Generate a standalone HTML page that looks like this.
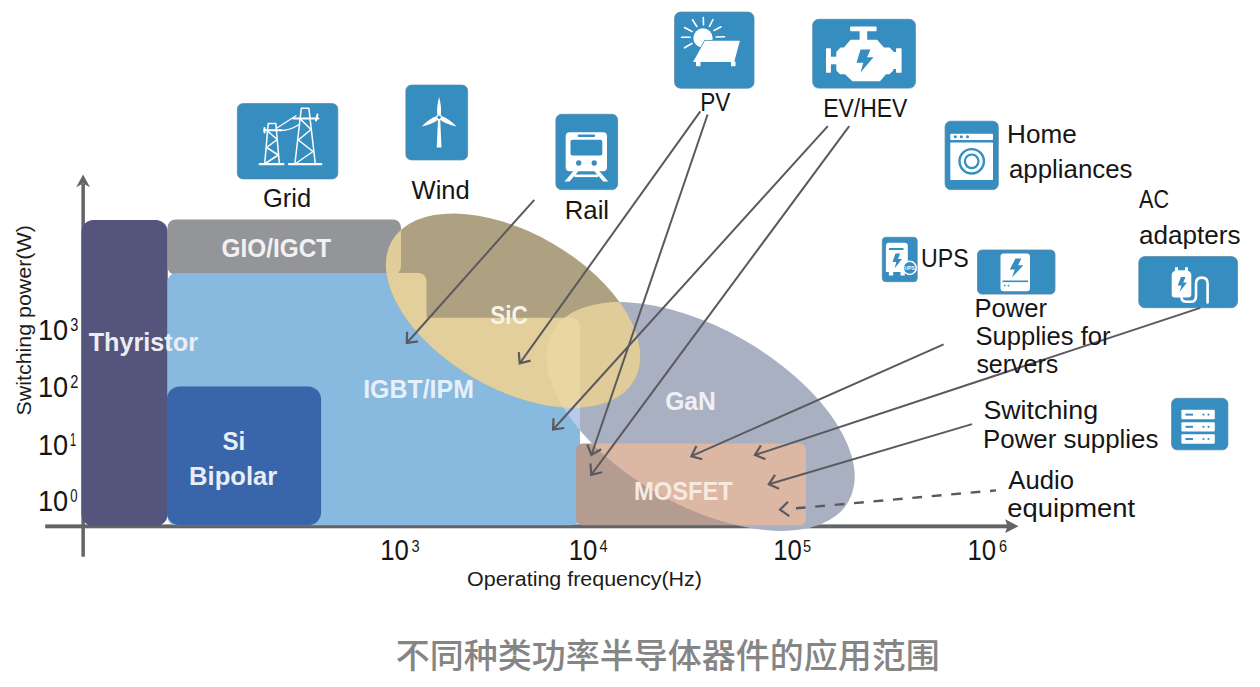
<!DOCTYPE html>
<html lang="zh">
<head>
<meta charset="utf-8">
<title>不同种类功率半导体器件的应用范围</title>
<style>
html,body{margin:0;padding:0;background:#fff;}
body{width:1260px;height:687px;overflow:hidden;}
svg{display:block;}
text{font-family:"Liberation Sans","Noto Sans CJK SC",sans-serif;}
.lbl{font-size:23.5px;fill:#161616;}
.w{font-weight:bold;font-size:23px;}
.tick{font-size:27px;fill:#161616;}
.sup{font-size:16px;fill:#161616;}
.ax{font-size:17.5px;fill:#1c1c1c;}
.title{font-family:"Liberation Sans","Noto Sans CJK SC",sans-serif;font-size:34px;font-weight:500;fill:#858585;}
.ln{stroke:#5a5a5e;stroke-width:2;fill:none;stroke-linecap:butt;}
.ic{fill:#368dbf;stroke:#5a88a6;stroke-width:0.8;}
</style>
</head>
<body>
<svg width="1260" height="687" viewBox="0 0 1260 687">
<defs>
  <ellipse id="e1" cx="513.100" cy="310.700" rx="139.800" ry="78" transform="rotate(30 513.100 310.700)"/>
  <ellipse id="e2" cx="700.500" cy="416.500" rx="170.700" ry="88" transform="rotate(30 700.500 416.500)" clip-path="url(#cb)"/>
  <path id="igbt" d="M167.500,283 Q167.500,273 177.500,273 L417.500,273 Q426.500,273 426.500,282 L426.500,317.800 L570,317.800 Q580,317.800 580,327.800 L580,516.300 Q580,525.300 571,525.300 L176.500,525.300 Q167.500,525.300 167.500,516.300 Z"/>
  <rect id="gio" x="167.500" y="219.500" width="233.500" height="55" rx="8" ry="8"/>
  <rect id="mos" x="576" y="443.400" width="230" height="81.900" rx="6.500" ry="6.500"/>
  <clipPath id="cb"><rect x="0" y="0" width="1260" height="528.400"/></clipPath>
  <clipPath id="c1"><use href="#e1"/></clipPath>
  <clipPath id="c2"><use href="#e2"/></clipPath>
</defs>

<!-- axes -->
<g id="axes" fill="#636467" stroke="none">
  <rect x="81.400" y="184" width="3.500" height="372.700"/>
  <path d="M83.100,174.400 L90,187.200 L83.100,183.600 L76.200,187.200 Z"/>
  <rect x="45.200" y="524.400" width="963" height="3.900"/>
  <path d="M1018.600,526.200 L1005.200,519.300 L1007.500,526.200 L1005.200,533.100 Z"/>
</g>

<!-- base regions -->
<g id="regions">
  <rect x="81.400" y="220" width="86.300" height="306" rx="12" ry="12" fill="#54547c"/>
  <use href="#gio" fill="#949599"/>
  <use href="#igbt" fill="#88b9de"/>
  <rect x="166.800" y="386.500" width="154.300" height="138.800" rx="13" ry="13" fill="#3965aa"/>
  <use href="#mos" fill="#b59c90"/>
  <!-- GaN -->
  <use href="#e2" fill="#a8b0c2"/>
  <g clip-path="url(#c2)">
    <use href="#igbt" fill="#b7cae9"/>
    <use href="#mos" fill="#dcb7a3"/>
  </g>
  <!-- SiC -->
  <use href="#e1" fill="#ada182"/>
  <g clip-path="url(#c1)">
    <use href="#gio" fill="#e1cd99"/>
    <use href="#igbt" fill="#e3cf9c"/>
    <use href="#e2" fill="#e0cc98"/>
    <g clip-path="url(#c2)">
      <use href="#igbt" fill="#ead6a2"/>
    </g>
  </g>
</g>

<!--ICONS_START-->
<g id="icons">
  <!-- Grid -->
  <g>
    <rect class="ic" x="237.4" y="103.6" width="100.4" height="75.3" rx="5.500"/>
    <g stroke="#fff" stroke-width="1.500" fill="none" stroke-linecap="round" stroke-linejoin="round">
      <!-- small pylon -->
      <path d="M268.200,123.500 L275.800,123.500 L279.400,164 M268.200,123.500 L264.700,164"/>
      <path d="M259.700,164.200 L283.400,164.200" stroke-width="2.200"/>
      <path d="M264,130.300 L281,130.300 M264.500,128 L264.500,132.500" stroke-width="2"/>
      <path d="M267.600,131 L277.200,139.500 L266.600,147.500 L278.300,155 L265.200,163.500"/>
      <!-- large pylon -->
      <path d="M301.300,108.300 L308.900,108.300 L315.300,164 M301.300,108.300 L294.900,164"/>
      <path d="M289,164.200 L321.200,164.200" stroke-width="2.200"/>
      <path d="M293.500,118.400 L318.400,118.400 M317.500,114.500 L316,120.500" stroke-width="2"/>
      <path d="M300.300,119 L311,129.500 L298.300,140 L313,151.500 L295.700,163.500"/>
      <!-- wires -->
      <path d="M276.500,128.300 L296,115.800" stroke-width="1.300"/>
      <path d="M280.500,130.500 Q290,130.500 299,124.500" stroke-width="1.300"/>
    </g>
  </g>
  <!-- Wind -->
  <g>
    <rect class="ic" x="405.9" y="85.1" width="61.7" height="74.8" rx="5.500"/>
    <g fill="#fff">
      <path d="M436.700,147.600 L438,119 L440.200,119 L441.500,147.600 Z"/>
      <path d="M439.100,96.800 Q442,108 440.700,115.800 L437.500,115.800 Q436.200,108 439.100,96.800 Z"/>
      <path d="M421.600,126.600 Q429.500,118.300 437,116 L438.900,119.300 Q432.500,124.300 421.600,126.600 Z"/>
      <path d="M456.600,126.600 Q448.700,118.300 441.200,116 L439.300,119.300 Q445.700,124.300 456.600,126.600 Z"/>
      <circle cx="439.100" cy="117.300" r="2.300" fill="#368dbf" stroke="#fff" stroke-width="1.100"/>
    </g>
  </g>
  <!-- Rail -->
  <g>
    <rect class="ic" x="555.9" y="114.3" width="61.7" height="75.3" rx="5.500"/>
    <path fill="#fff" d="M569.700,132.200 L603,132.200 Q607,132.200 607,136.200 L607,167.300 Q607,171.300 603,171.300 L569.700,171.300 Q565.700,171.300 565.700,167.300 L565.700,136.200 Q565.700,132.200 569.700,132.200 Z"/>
    <rect x="570.500" y="139.700" width="31.800" height="15.700" rx="2" fill="#368dbf"/>
    <rect x="577.700" y="134.400" width="17.500" height="2.700" rx="1.300" fill="#368dbf"/>
    <circle cx="578.700" cy="163" r="2.700" fill="#368dbf"/>
    <circle cx="594.200" cy="163" r="2.700" fill="#368dbf"/>
    <path fill="#fff" d="M573.500,171 L578.500,171 L569.500,181.500 L564.500,181.500 Z M599.200,171 L594.200,171 L603.200,181.500 L608.200,181.500 Z"/>
    <rect x="574.500" y="174.500" width="23.700" height="2.600" fill="#fff"/>
  </g>
  <!-- PV -->
  <g>
    <rect class="ic" x="674.6" y="12.1" width="79.4" height="76.1" rx="6"/>
    <circle cx="703" cy="38" r="9.700" fill="#fff"/>
    <g stroke="#fff" stroke-width="1.600" stroke-linecap="round">
      <path d="M703.500,25 L703.300,17.500 M709.500,26.300 L713,19.500 M714,30.500 L721,26.800 M716,37 L724.500,36.800 M696.800,26.500 L692.500,19.800 M692,31.500 L684.500,27.500 M690.200,37.300 L681.500,37.300 M692,43.500 L684.500,47.800"/>
    </g>
    <path d="M704.900,40.700 L739.900,40.700 L734.200,62 L693.100,62 Z" fill="#fff" stroke="#368dbf" stroke-width="1.400" stroke-linejoin="round" paint-order="stroke"/>
    <rect x="696" y="61.500" width="4.500" height="4.700" fill="#fff"/>
    <rect x="731" y="61.500" width="4.500" height="4.700" fill="#fff"/>
  </g>
  <!-- EV/HEV -->
  <g>
    <rect class="ic" x="812.7" y="19.3" width="102.7" height="68.8" rx="6"/>
    <g fill="#fff">
      <rect x="850.100" y="26.500" width="26.500" height="4.700" rx="0.800"/>
      <rect x="859.600" y="30" width="7.600" height="10"/>
      <path d="M850.500,39.700 L877,39.700 L884,47.500 L889.500,47.500 L893.300,51.300 L893.300,70.500 L889.500,74.300 L886,74.300 L880,81.300 L852.400,81.300 L845,74.300 L840,74.300 L836.300,70.500 L836.300,52 L840.500,47.500 L843.900,47.500 Z"/>
      <rect x="826" y="48.200" width="4.900" height="24.600" rx="0.600"/>
      <rect x="829" y="56.700" width="9" height="7.600"/>
      <rect x="896" y="48.200" width="5.600" height="24.600" rx="0.600"/>
      <rect x="892" y="52" width="5" height="17"/>
    </g>
    <path fill="#368dbf" d="M860.500,49.500 L870.500,49.500 L867,57.200 L873.500,57.200 L860.500,72.500 L863.300,62.800 L856.500,62.800 Z"/>
  </g>
  <!-- Home appliances -->
  <g>
    <rect class="ic" x="945.1" y="121.2" width="53.2" height="68.4" rx="5.500"/>
    <rect x="950.300" y="133.800" width="42.700" height="6.200" rx="0.800" fill="#fff"/>
    <rect x="950.300" y="142.500" width="42.700" height="37.500" rx="0.800" fill="#fff"/>
    <circle cx="955.300" cy="136.800" r="1.500" fill="#368dbf"/>
    <circle cx="961.300" cy="136.800" r="1.500" fill="#368dbf"/>
    <circle cx="967.500" cy="136.800" r="1.500" fill="#368dbf"/>
    <circle cx="971.700" cy="161.300" r="12.200" fill="none" stroke="#368dbf" stroke-width="2.400"/>
    <circle cx="971.700" cy="161.300" r="6.800" fill="none" stroke="#368dbf" stroke-width="2.200"/>
  </g>
  <!-- UPS -->
  <g>
    <rect class="ic" x="882.3" y="237.3" width="34.9" height="44.4" rx="3.500"/>
    <path fill="#fff" d="M888.900,242.800 L904.800,242.800 Q907.800,242.800 907.800,245.800 L907.800,272 L904.800,272 L904.800,275.500 L900.500,275.500 L900.500,272 L893.200,272 L893.200,275.500 L888.900,275.500 L888.900,272 L885.900,272 L885.900,245.800 Q885.900,242.800 888.900,242.800 Z"/>
    <rect x="889" y="248" width="14.500" height="2" fill="#368dbf"/>
    <path fill="#368dbf" d="M895.500,253.500 L900.200,253.500 L898,259 L902,259 L894.500,268.500 L896.300,262 L892.500,262 Z"/>
    <circle cx="909.700" cy="267.900" r="6.600" fill="#368dbf" stroke="#fff" stroke-width="1.500"/>
    <text x="909.700" y="269.800" text-anchor="middle" font-size="5.200" font-weight="bold" fill="#fff">UPS</text>
  </g>
  <!-- Power supplies for servers -->
  <g>
    <rect class="ic" x="977.5" y="250.0" width="77.5" height="44.1" rx="4.500"/>
    <rect x="1000.500" y="253.600" width="29.500" height="37.700" rx="3" fill="#fff"/>
    <rect x="1002.500" y="280.500" width="25.500" height="1.600" fill="#368dbf"/>
    <circle cx="1004.700" cy="285.600" r="0.900" fill="#368dbf"/>
    <circle cx="1008.500" cy="285.600" r="0.900" fill="#368dbf"/>
    <path fill="#368dbf" d="M1015.500,258.500 L1021.300,258.500 L1018,265.200 L1023.300,265.200 L1012,277.500 L1014.800,269.500 L1009.800,269.500 Z"/>
  </g>
  <!-- AC adapters -->
  <g>
    <rect class="ic" x="1138.8" y="256.6" width="98.7" height="51.1" rx="6"/>
    <path fill="#fff" d="M1175,267.300 L1178,267.300 L1178,270.300 L1185,270.300 L1185,267.300 L1188,267.300 L1188,270.800 Q1191.300,272 1191.300,275.500 L1191.300,294.600 Q1191.300,297.600 1188.300,297.600 L1174.700,297.600 Q1171.700,297.600 1171.700,294.600 L1171.700,275.500 Q1171.700,272 1175,270.800 Z"/>
    <path fill="#368dbf" d="M1181,277 L1185.500,277 L1183.200,282.500 L1187,282.500 L1179.500,292 L1181.500,285.500 L1177.700,285.500 Z"/>
    <path fill="none" stroke="#fff" stroke-width="2.600" stroke-linecap="round" d="M1181.500,297.600 Q1181.500,301.800 1187,301.800 L1191,301.800 Q1196,301.800 1196,296 L1196,283.500 Q1196,277.600 1201.800,277.600 Q1207.600,277.600 1207.600,283.500 L1207.600,302.500"/>
  </g>
  <!-- Switching power supplies (server) -->
  <g>
    <rect class="ic" x="1171.6" y="398.3" width="56.3" height="51.5" rx="5.500"/>
    <g fill="#fff">
      <rect x="1181.400" y="409.800" width="33.400" height="9.500" rx="1"/>
      <rect x="1181.400" y="422.200" width="33.400" height="9.200" rx="1"/>
      <rect x="1181.400" y="434.300" width="33.400" height="9.500" rx="1"/>
    </g>
    <g fill="#368dbf">
      <rect x="1185.500" y="413.600" width="7.500" height="2"/><rect x="1185.500" y="425.800" width="7.500" height="2"/><rect x="1185.500" y="438" width="7.500" height="2"/>
      <circle cx="1203.500" cy="414.600" r="1.100"/><circle cx="1208.500" cy="414.600" r="1.100"/>
      <circle cx="1203.500" cy="426.800" r="1.100"/><circle cx="1208.500" cy="426.800" r="1.100"/>
      <circle cx="1203.500" cy="439" r="1.100"/><circle cx="1208.500" cy="439" r="1.100"/>
    </g>
  </g>
</g>
<!--ICONS_END-->
<!--ARROWS_START-->
<g id="arrows" class="ln">
  <path d="M534.3,199.8 L406.8,343.0"/>
  <path d="M407.1,331.7 L406.8,343.0 L418.0,341.4" stroke-width="2.2" stroke-linejoin="miter"/>
  <path d="M700.3,111.4 L519.7,363.4"/>
  <path d="M518.8,352.1 L519.7,363.4 L530.6,360.6" stroke-width="2.2" stroke-linejoin="miter"/>
  <path d="M707.6,114.5 L591.4,455.0"/>
  <path d="M587.3,444.5 L591.4,455.0 L601.1,449.2" stroke-width="2.2" stroke-linejoin="miter"/>
  <path d="M827.8,126.1 L553.1,429.5"/>
  <path d="M553.5,418.2 L553.1,429.5 L564.3,428.0" stroke-width="2.2" stroke-linejoin="miter"/>
  <path d="M849.2,126.1 L591.2,474.8"/>
  <path d="M590.5,463.5 L591.2,474.8 L602.2,472.2" stroke-width="2.2" stroke-linejoin="miter"/>
  <path d="M943.6,344.4 L691.4,456.2"/>
  <path d="M696.4,446.1 L691.4,456.2 L702.3,459.3" stroke-width="2.2" stroke-linejoin="miter"/>
  <path d="M1200.3,307.9 L755.0,455.0"/>
  <path d="M760.9,445.4 L755.0,455.0 L765.5,459.2" stroke-width="2.2" stroke-linejoin="miter"/>
  <path d="M972.1,424.1 L768.8,484.3"/>
  <path d="M775.0,474.9 L768.8,484.3 L779.2,488.8" stroke-width="2.2" stroke-linejoin="miter"/>
  <path d="M996.0,490.4 L796.0,508.3" stroke-dasharray="9.8 9.7" stroke-dashoffset="3.8" stroke-width="2.4"/>
  <path d="M788.0,501.7 L780.0,509.7 L789.3,516.2" stroke-width="2.2" stroke-linejoin="miter"/>
</g>
<!--ARROWS_END-->
<!--TEXT_START-->
<g id="labels">
  <text x="262.9" y="207.3" font-size="25.5" fill="#161616" textLength="48.2" lengthAdjust="spacingAndGlyphs">Grid</text>
  <text x="411.6" y="199.4" font-size="25.5" fill="#161616" textLength="58.2" lengthAdjust="spacingAndGlyphs">Wind</text>
  <text x="564.7" y="219.2" font-size="25.5" fill="#161616" textLength="44.4" lengthAdjust="spacingAndGlyphs">Rail</text>
  <text x="700.2" y="110.7" font-size="25.5" fill="#161616" textLength="30.2" lengthAdjust="spacingAndGlyphs">PV</text>
  <text x="823.2" y="116.9" font-size="25.5" fill="#161616" textLength="84.1" lengthAdjust="spacingAndGlyphs">EV/HEV</text>
  <text x="1007.1" y="142.5" font-size="25.5" fill="#161616" textLength="69.7" lengthAdjust="spacingAndGlyphs">Home</text>
  <text x="1009.0" y="177.5" font-size="25.5" fill="#161616" textLength="123.5" lengthAdjust="spacingAndGlyphs">appliances</text>
  <text x="1139.1" y="208.4" font-size="25.5" fill="#161616" textLength="30.0" lengthAdjust="spacingAndGlyphs">AC</text>
  <text x="1139.0" y="244.1" font-size="25.5" fill="#161616" textLength="101.5" lengthAdjust="spacingAndGlyphs">adapters</text>
  <text x="921.0" y="266.5" font-size="25.5" fill="#161616" textLength="47.6" lengthAdjust="spacingAndGlyphs">UPS</text>
  <text x="974.4" y="317.0" font-size="25.5" fill="#161616" textLength="72.6" lengthAdjust="spacingAndGlyphs">Power</text>
  <text x="975.4" y="344.9" font-size="25.5" fill="#161616" textLength="135.1" lengthAdjust="spacingAndGlyphs">Supplies for</text>
  <text x="976.4" y="373.4" font-size="25.5" fill="#161616" textLength="81.8" lengthAdjust="spacingAndGlyphs">servers</text>
  <text x="983.4" y="419.3" font-size="25.5" fill="#161616" textLength="114.7" lengthAdjust="spacingAndGlyphs">Switching</text>
  <text x="983.0" y="447.9" font-size="25.5" fill="#161616" textLength="175.4" lengthAdjust="spacingAndGlyphs">Power supplies</text>
  <text x="1008.3" y="489.0" font-size="25.5" fill="#161616" textLength="65.7" lengthAdjust="spacingAndGlyphs">Audio</text>
  <text x="1007.2" y="516.9" font-size="25.5" fill="#161616" textLength="127.9" lengthAdjust="spacingAndGlyphs">equipment</text>
  <text x="88.7" y="350.7" font-size="25.5" font-weight="bold" fill="#ececf3" textLength="109.3" lengthAdjust="spacingAndGlyphs">Thyristor</text>
  <text x="221.5" y="256.5" font-size="25.5" font-weight="bold" fill="#f1f1f2" textLength="109.6" lengthAdjust="spacingAndGlyphs">GIO/IGCT</text>
  <text x="363.2" y="397.6" font-size="25.5" font-weight="bold" fill="#e6f0f9" textLength="110.7" lengthAdjust="spacingAndGlyphs">IGBT/IPM</text>
  <text x="222.5" y="450.2" font-size="25.5" font-weight="bold" fill="#e8edf6" textLength="22.7" lengthAdjust="spacingAndGlyphs">Si</text>
  <text x="189.0" y="485.2" font-size="25.5" font-weight="bold" fill="#e8edf6" textLength="88.3" lengthAdjust="spacingAndGlyphs">Bipolar</text>
  <text x="490.2" y="324.0" font-size="25.5" font-weight="bold" fill="#f6f2e6" textLength="37.4" lengthAdjust="spacingAndGlyphs">SiC</text>
  <text x="665.2" y="409.8" font-size="25.5" font-weight="bold" fill="#eef0f5" textLength="50.6" lengthAdjust="spacingAndGlyphs">GaN</text>
  <text x="633.9" y="499.8" font-size="25.5" font-weight="bold" fill="#f6e9e0" textLength="99.0" lengthAdjust="spacingAndGlyphs">MOSFET</text>
  <text x="467.1" y="585.7" font-size="19.3" fill="#1c1c1c" textLength="234.8" lengthAdjust="spacingAndGlyphs">Operating frequency(Hz)</text>
  <text x="38.0" y="340.1" font-size="29.5" fill="#161616" textLength="30.2" lengthAdjust="spacingAndGlyphs">10</text>
  <text x="70.3" y="331.1" font-size="17.5" fill="#161616" textLength="8.1" lengthAdjust="spacingAndGlyphs">3</text>
  <text x="38.0" y="397.1" font-size="29.5" fill="#161616" textLength="30.2" lengthAdjust="spacingAndGlyphs">10</text>
  <text x="70.3" y="388.1" font-size="17.5" fill="#161616" textLength="8.1" lengthAdjust="spacingAndGlyphs">2</text>
  <text x="38.0" y="454.5" font-size="29.5" fill="#161616" textLength="30.2" lengthAdjust="spacingAndGlyphs">10</text>
  <text x="70.0" y="445.5" font-size="17.5" fill="#161616" textLength="6.1" lengthAdjust="spacingAndGlyphs">1</text>
  <text x="38.0" y="511.2" font-size="29.5" fill="#161616" textLength="30.2" lengthAdjust="spacingAndGlyphs">10</text>
  <text x="70.3" y="502.2" font-size="17.5" fill="#161616" textLength="7.3" lengthAdjust="spacingAndGlyphs">0</text>
  <text x="380.2" y="560.3" font-size="29.5" fill="#161616" textLength="28.6" lengthAdjust="spacingAndGlyphs">10</text>
  <text x="411.5" y="552.3" font-size="16" fill="#161616" textLength="8.1" lengthAdjust="spacingAndGlyphs">3</text>
  <text x="568.8" y="560.3" font-size="29.5" fill="#161616" textLength="28.6" lengthAdjust="spacingAndGlyphs">10</text>
  <text x="599.5" y="552.3" font-size="16" fill="#161616" textLength="8.1" lengthAdjust="spacingAndGlyphs">4</text>
  <text x="773.3" y="560.3" font-size="29.5" fill="#161616" textLength="28.6" lengthAdjust="spacingAndGlyphs">10</text>
  <text x="802.9" y="552.3" font-size="16" fill="#161616" textLength="8.1" lengthAdjust="spacingAndGlyphs">5</text>
  <text x="967.4" y="560.3" font-size="29.5" fill="#161616" textLength="28.6" lengthAdjust="spacingAndGlyphs">10</text>
  <text x="998.9" y="552.3" font-size="16" fill="#161616" textLength="8.1" lengthAdjust="spacingAndGlyphs">6</text>
  <text transform="translate(30.6 415.5) rotate(-90)" x="0.0" y="0" font-size="19.3" fill="#1c1c1c" textLength="190.3" lengthAdjust="spacingAndGlyphs">Switching power(W)</text>
  <text x="667.8" y="667.7" text-anchor="middle" class="title">不同种类功率半导体器件的应用范围</text>
</g>
<!--TEXT_END-->
</svg>
</body>
</html>
